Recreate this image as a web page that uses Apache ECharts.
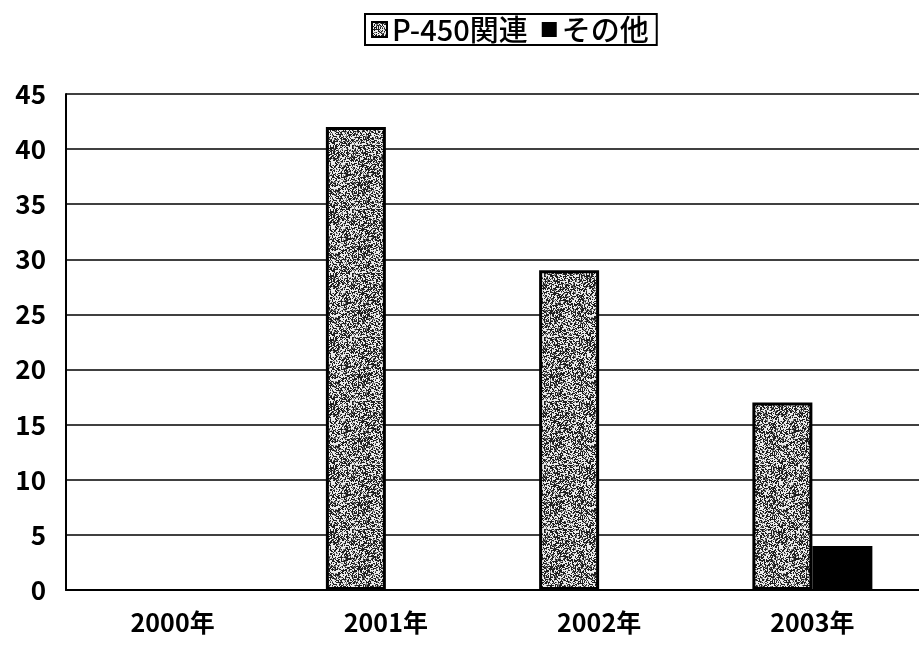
<!DOCTYPE html>
<html>
<head>
<meta charset="utf-8">
<script src="https://cdn.jsdelivr.net/npm/echarts@6/dist/echarts.min.js"></script>
<style>html,body{margin:0;padding:0;background:#fff}#c{width:919px;height:652px}</style>
</head>
<body>
<div id="c"></div>
<script>
var categories = ['2000年', '2001年', '2002年', '2003年'];
var p450Values = [null, 42, 29, 17];
var otherValues = [null, null, null, 4];
var seriesNames = ['P-450関連', 'その他'];

// deterministic stipple texture for the patterned bars
function makePattern() {
  var s = 64, cv = document.createElement('canvas');
  cv.width = s; cv.height = s;
  var ctx = cv.getContext('2d');
  ctx.fillStyle = '#e6e6e6';
  ctx.fillRect(0, 0, s, s);
  var img = ctx.getImageData(0, 0, s, s);
  for (var y = 0; y < s; y++) {
    for (var x = 0; x < s; x++) {
      var h = (x * 374761393 + y * 668265263) | 0;
      h = (h ^ (h >>> 13)) * 1274126177 | 0;
      h = (h ^ (h >>> 16)) >>> 0;
      var v = (h % 100);
      var i = (y * s + x) * 4;
      var c = v < 42 ? 30 : (v < 55 ? 120 : 235);
      img.data[i] = c; img.data[i + 1] = c; img.data[i + 2] = c; img.data[i + 3] = 255;
    }
  }
  ctx.putImageData(img, 0, 0);
  return cv;
}
var pattern = { image: makePattern(), repeat: 'repeat' };

var chart = echarts.init(document.getElementById('c'));
var font = '"Noto Sans CJK JP", "Liberation Sans", sans-serif';
chart.setOption({
  animation: false,
  textStyle: { fontFamily: font },
  legend: {
    top: 14,
    left: 365,
    data: seriesNames,
    icon: 'rect',
    itemWidth: 15,
    itemHeight: 15,
    itemGap: 14,
    padding: [1, 8, 1, 6],
    borderColor: '#000',
    borderWidth: 2,
    textStyle: { fontSize: 29, color: '#000', fontFamily: font, fontWeight: 500 }
  },
  grid: { left: 66, right: 0, top: 94, bottom: 62 },
  xAxis: {
    type: 'category',
    data: categories,
    axisLine: { lineStyle: { color: '#000', width: 2 } },
    axisTick: { inside: true, length: 6, lineStyle: { color: '#000' } },
    axisLabel: { fontSize: 25, color: '#000', margin: 20, fontWeight: 'bold', fontFamily: font }
  },
  yAxis: {
    type: 'value',
    min: 0, max: 45, interval: 5,
    axisLine: { show: true, lineStyle: { color: '#000', width: 2 } },
    axisTick: { show: false },
    splitLine: { lineStyle: { color: '#000', width: 1.5 } },
    axisLabel: { fontSize: 26, color: '#000', margin: 20, fontWeight: 'bold', fontFamily: font }
  },
  series: [
    {
      name: seriesNames[0], type: 'bar', data: p450Values,
      barWidth: 60, barGap: '0%',
      itemStyle: { color: pattern, borderColor: '#000', borderWidth: 3 }
    },
    {
      name: seriesNames[1], type: 'bar', data: otherValues,
      barWidth: 60,
      itemStyle: { color: '#000', borderColor: '#000', borderWidth: 0 }
    }
  ]
});
</script>
</body>
</html>
